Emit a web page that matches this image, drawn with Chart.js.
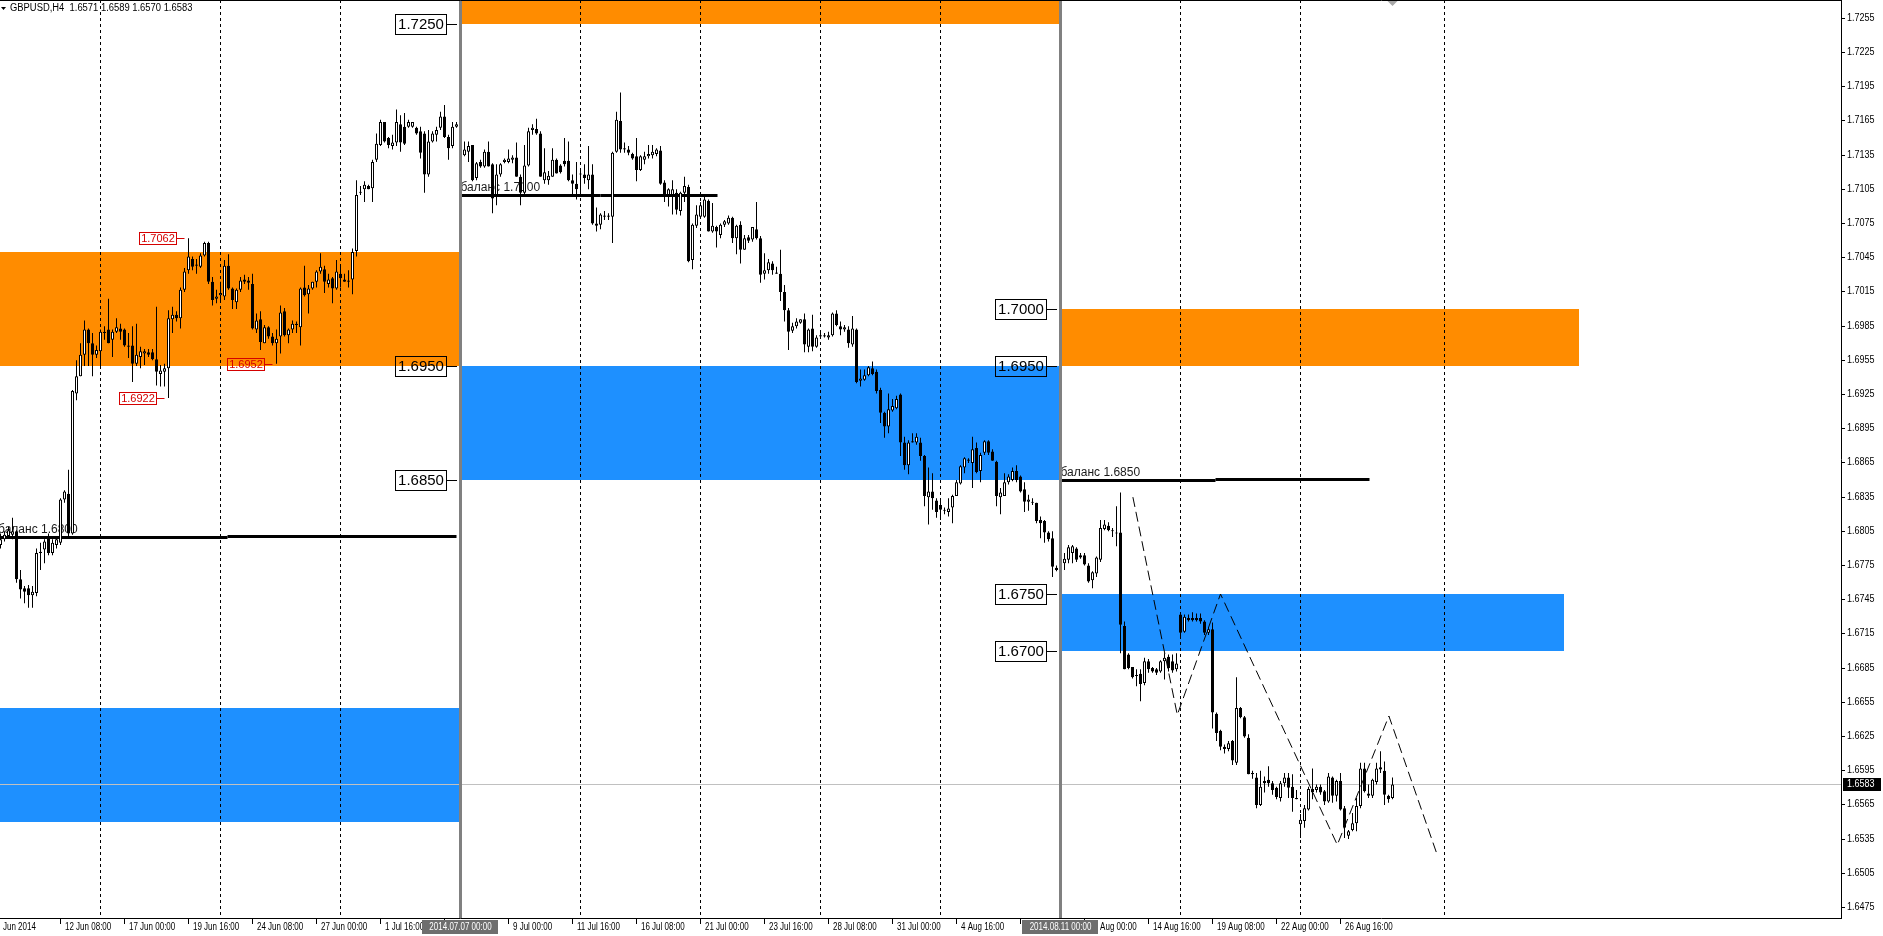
<!DOCTYPE html>
<html>
<head>
<meta charset="utf-8">
<title>GBPUSD,H4</title>
<script src="https://cdn.jsdelivr.net/npm/chart.js@4.4.1/dist/chart.umd.min.js"></script>
<style>
  html, body { margin: 0; padding: 0; background: #fff; overflow: hidden; }
  #wrap { width: 1883px; height: 936px; }
  #chart { display: block; }
</style>
</head>
<body>
<div id="wrap"><canvas id="chart" width="1883" height="936"></canvas></div>
<script>
// H4 bars, index 0 = 9 Jun 20:00 ... 348 = last (current) bar
var OPEN = [
  1.6793,1.6798,1.6801,1.6802,1.6805,1.6763,1.6755,1.6755,1.6749,1.6751,
  1.6786,1.6789,1.6801,1.6786,1.6793,1.6795,1.6833,1.6838,1.6803,1.6926,
  1.6941,1.6960,1.6982,1.6970,1.6960,1.6963,1.6979,1.6982,1.6973,1.6980,
  1.6983,1.6982,1.6968,1.6968,1.6952,1.6958,1.6961,1.6962,1.6962,1.6956,
  1.6943,1.6945,1.6948,1.6991,1.6995,1.6992,1.7017,1.7034,1.7044,1.7039,
  1.7037,1.7047,1.7058,1.7024,1.7009,1.7012,1.7011,1.7038,1.7018,1.7006,
  1.7017,1.7026,1.7025,1.7022,1.6982,1.6991,1.6970,1.6984,1.6976,1.6970,
  1.6976,1.6998,1.6977,1.6982,1.6986,1.6984,1.7019,1.7013,1.7018,1.7024,
  1.7033,1.7035,1.7022,1.7027,1.7018,1.7031,1.7026,1.7024,1.7026,1.7051,
  1.7102,1.7105,1.7108,1.7106,1.7131,1.7144,1.7164,1.7150,1.7143,1.7146,
  1.7162,1.7160,1.7160,1.7160,1.7159,1.7156,1.7154,1.7118,1.7147,1.7153,
  1.7159,1.7169,1.7151,1.7143,1.7160,1.7150,1.7135,1.7138,1.7144,1.7115,
  1.7129,1.7125,1.7138,1.7127,1.7100,1.7118,1.7129,1.7129,1.7131,1.7133,
  1.7116,1.7102,1.7126,1.7157,1.7158,1.7154,1.7113,1.7113,1.7116,1.7131,
  1.7126,1.7130,1.7130,1.7113,1.7110,1.7119,1.7118,1.7113,1.7118,1.7075,
  1.7074,1.7081,1.7081,1.7081,1.7138,1.7165,1.7141,1.7140,1.7136,1.7134,
  1.7122,1.7131,1.7134,1.7135,1.7136,1.7139,1.7111,1.7100,1.7100,1.7102,
  1.7086,1.7102,1.7107,1.7043,1.7073,1.7081,1.7081,1.7095,1.7068,1.7072,
  1.7065,1.7074,1.7075,1.7080,1.7062,1.7074,1.7052,1.7063,1.7061,1.7070,
  1.7062,1.7031,1.7034,1.7040,1.7032,1.7031,1.7015,1.6999,1.6981,1.6985,
  1.6988,1.6991,1.6967,1.6983,1.6967,1.6976,1.6977,1.6975,1.6977,1.6996,
  1.6985,1.6982,1.6982,1.6969,1.6982,1.6937,1.6938,1.6942,1.6948,1.6945,
  1.6929,1.6909,1.6897,1.6911,1.6913,1.6925,1.6883,1.6863,1.6883,1.6883,
  1.6883,1.6871,1.6835,1.6840,1.6832,1.6828,1.6823,1.6822,1.6826,1.6836,
  1.6847,1.6861,1.6867,1.6865,1.6878,1.6858,1.6874,1.6884,1.6875,1.6866,
  1.6835,1.6836,1.6848,1.6850,1.6858,1.6853,1.6842,1.6831,1.6830,1.6830,
  1.6815,1.6814,1.6804,1.6799,1.6773,1.6771,1.6777,1.6780,1.6786,1.6790,
  1.6784,1.6784,1.6775,1.6762,1.6768,1.6780,1.6807,1.6810,1.6806,1.6803,
  1.6804,1.6722,1.6697,1.6686,1.6679,1.6680,1.6672,1.6691,1.6685,1.6684,
  1.6682,1.6691,1.6695,1.6691,1.6684,1.6732,1.6717,1.6729,1.6729,1.6729,
  1.6729,1.6726,1.6716,1.6719,1.6645,1.6630,1.6616,1.6614,1.6621,1.6602,
  1.6650,1.6642,1.6624,1.6593,1.6589,1.6565,1.6586,1.6587,1.6584,1.6580,
  1.6571,1.6584,1.6589,1.6581,1.6571,1.6548,1.6551,1.6561,1.6579,1.6578,
  1.6581,1.6577,1.6568,1.6589,1.6573,1.6586,1.6562,1.6538,1.6543,1.6549,
  1.6564,1.6597,1.6575,1.6573,1.6585,1.6598,1.6595,1.6573,1.6571
];
var HIGH = [
  1.6803,1.6805,1.6809,1.6817,1.6806,1.6771,1.6757,1.6758,1.6757,1.6790,
  1.6795,1.6798,1.6803,1.6798,1.6801,1.6834,1.6841,1.6859,1.6929,1.6955,
  1.6970,1.6990,1.6983,1.6979,1.6968,1.6982,1.6985,1.7009,1.6982,1.6992,
  1.6987,1.6983,1.6979,1.6985,1.6987,1.6967,1.6965,1.6965,1.6965,1.7002,
  1.6951,1.6952,1.6999,1.7002,1.6998,1.7019,1.7036,1.7062,1.7046,1.7044,
  1.7049,1.7059,1.7059,1.7028,1.7017,1.7024,1.7043,1.7048,1.7019,1.7018,
  1.7028,1.7030,1.7028,1.7031,1.6996,1.6998,1.6986,1.6985,1.6979,1.6982,
  1.7003,1.7001,1.6983,1.6990,1.6989,1.7019,1.7038,1.7021,1.7024,1.7034,
  1.7049,1.7038,1.7031,1.7028,1.7043,1.7038,1.7031,1.7034,1.7053,1.7113,
  1.7108,1.7112,1.7109,1.7131,1.7154,1.7166,1.7164,1.7151,1.7153,1.7175,
  1.7170,1.7172,1.7166,1.7164,1.7160,1.7160,1.7156,1.7157,1.7156,1.7160,
  1.7173,1.7179,1.7153,1.7164,1.7164,1.7155,1.7147,1.7147,1.7144,1.7129,
  1.7131,1.7140,1.7147,1.7128,1.7127,1.7128,1.7132,1.7140,1.7135,1.7146,
  1.7118,1.7144,1.7159,1.7162,1.7167,1.7156,1.7141,1.7121,1.7141,1.7132,
  1.7127,1.7150,1.7147,1.7118,1.7129,1.7122,1.7127,1.7143,1.7127,1.7089,
  1.7084,1.7086,1.7084,1.7138,1.7173,1.7190,1.7146,1.7143,1.7137,1.7150,
  1.7135,1.7138,1.7144,1.7144,1.7141,1.7143,1.7113,1.7106,1.7113,1.7105,
  1.7103,1.7116,1.7109,1.7075,1.7091,1.7094,1.7099,1.7096,1.7093,1.7073,
  1.7075,1.7078,1.7082,1.7081,1.7074,1.7077,1.7065,1.7065,1.7072,1.7094,
  1.7064,1.7049,1.7044,1.7042,1.7037,1.7052,1.7021,1.7001,1.6988,1.6992,
  1.6991,1.6996,1.6983,1.6995,1.6977,1.6979,1.6979,1.6980,1.6997,1.6999,
  1.6989,1.6986,1.6985,1.6994,1.6983,1.6947,1.6947,1.6950,1.6954,1.6947,
  1.6931,1.6910,1.6926,1.6921,1.6924,1.6926,1.6888,1.6885,1.6891,1.6891,
  1.6887,1.6872,1.6861,1.6856,1.6834,1.6834,1.6826,1.6834,1.6837,1.6850,
  1.6863,1.6870,1.6869,1.6888,1.6883,1.6874,1.6885,1.6885,1.6877,1.6867,
  1.6843,1.6856,1.6855,1.6861,1.6863,1.6854,1.6848,1.6837,1.6834,1.6830,
  1.6818,1.6815,1.6805,1.6805,1.6775,1.6780,1.6786,1.6793,1.6793,1.6791,
  1.6786,1.6786,1.6777,1.6770,1.6783,1.6815,1.6815,1.6813,1.6808,1.6827,
  1.6839,1.6726,1.6698,1.6686,1.6684,1.6684,1.6694,1.6693,1.6686,1.6685,
  1.6692,1.6698,1.6697,1.6697,1.6698,1.6733,1.6732,1.6732,1.6734,1.6733,
  1.6733,1.6727,1.6721,1.6725,1.6646,1.6631,1.6618,1.6621,1.6622,1.6677,
  1.6651,1.6643,1.6627,1.6595,1.6593,1.6595,1.6590,1.6599,1.6586,1.6581,
  1.6586,1.6593,1.6593,1.6592,1.6578,1.6557,1.6565,1.6581,1.6597,1.6583,
  1.6583,1.6578,1.6593,1.6590,1.6587,1.6593,1.6564,1.6543,1.6558,1.6571,
  1.6602,1.6602,1.6583,1.6588,1.6602,1.6612,1.6603,1.6574,1.6589
];
var LOW = [
  1.6790,1.6796,1.6799,1.6798,1.6760,1.6746,1.6742,1.6738,1.6738,1.6748,
  1.6771,1.6777,1.6784,1.6784,1.6790,1.6793,1.6830,1.6801,1.6802,1.6920,
  1.6941,1.6950,1.6950,1.6941,1.6957,1.6950,1.6973,1.6970,1.6958,1.6979,
  1.6973,1.6967,1.6957,1.6936,1.6950,1.6948,1.6951,1.6958,1.6955,1.6933,
  1.6932,1.6932,1.6922,1.6979,1.6989,1.6983,1.7015,1.7031,1.7034,1.7031,
  1.7036,1.7046,1.7022,1.7003,1.7005,1.7008,1.7008,1.7017,1.7000,1.7000,
  1.7015,1.7022,1.7017,1.6982,1.6979,1.6964,1.6970,1.6974,1.6968,1.6952,
  1.6961,1.6976,1.6970,1.6979,1.6979,1.6968,1.7011,1.6996,1.7017,1.7019,
  1.7031,1.7014,1.7019,1.7005,1.7017,1.7019,1.7024,1.7019,1.7013,1.7046,
  1.7100,1.7094,1.7105,1.7094,1.7129,1.7143,1.7146,1.7141,1.7140,1.7143,
  1.7138,1.7144,1.7159,1.7159,1.7153,1.7132,1.7102,1.7116,1.7146,1.7147,
  1.7157,1.7150,1.7131,1.7141,1.7159,1.7132,1.7134,1.7129,1.7112,1.7113,
  1.7124,1.7124,1.7125,1.7084,1.7091,1.7116,1.7128,1.7128,1.7128,1.7116,
  1.7091,1.7100,1.7125,1.7153,1.7153,1.7116,1.7110,1.7109,1.7116,1.7119,
  1.7119,1.7125,1.7112,1.7099,1.7096,1.7100,1.7110,1.7105,1.7074,1.7068,
  1.7070,1.7078,1.7078,1.7058,1.7137,1.7137,1.7137,1.7135,1.7131,1.7112,
  1.7121,1.7127,1.7132,1.7132,1.7134,1.7109,1.7094,1.7090,1.7083,1.7083,
  1.7082,1.7094,1.7041,1.7035,1.7071,1.7080,1.7080,1.7068,1.7067,1.7054,
  1.7062,1.7072,1.7074,1.7058,1.7048,1.7040,1.7052,1.7058,1.7059,1.7061,
  1.7023,1.7026,1.7031,1.7030,1.7031,1.7007,1.6989,1.6964,1.6979,1.6983,
  1.6987,1.6962,1.6962,1.6963,1.6966,1.6975,1.6975,1.6973,1.6976,1.6985,
  1.6977,1.6980,1.6966,1.6967,1.6935,1.6932,1.6937,1.6941,1.6942,1.6926,
  1.6900,1.6887,1.6891,1.6910,1.6912,1.6871,1.6859,1.6855,1.6883,1.6881,
  1.6867,1.6827,1.6811,1.6824,1.6817,1.6815,1.6820,1.6818,1.6812,1.6836,
  1.6846,1.6856,1.6865,1.6843,1.6856,1.6848,1.6872,1.6872,1.6867,1.6827,
  1.6820,1.6836,1.6846,1.6849,1.6848,1.6839,1.6822,1.6823,1.6828,1.6812,
  1.6799,1.6795,1.6796,1.6765,1.6770,1.6768,1.6771,1.6777,1.6777,1.6778,
  1.6781,1.6775,1.6760,1.6755,1.6765,1.6778,1.6806,1.6805,1.6800,1.6792,
  1.6698,1.6684,1.6684,1.6676,1.6669,1.6656,1.6670,1.6681,1.6681,1.6679,
  1.6681,1.6675,1.6682,1.6681,1.6682,1.6711,1.6716,1.6726,1.6726,1.6726,
  1.6724,1.6714,1.6714,1.6632,1.6621,1.6613,1.6610,1.6612,1.6600,1.6600,
  1.6641,1.6624,1.6592,1.6588,1.6562,1.6564,1.6576,1.6581,1.6574,1.6570,
  1.6568,1.6581,1.6571,1.6559,1.6570,1.6536,1.6545,1.6560,1.6570,1.6576,
  1.6574,1.6565,1.6567,1.6567,1.6568,1.6560,1.6536,1.6535,1.6542,1.6542,
  1.6562,1.6576,1.6571,1.6571,1.6583,1.6593,1.6565,1.6567,1.6570
];
var CLOSE = [
  1.6798,1.6802,1.6806,1.6805,1.6763,1.6754,1.6752,1.6749,1.6752,1.6786,
  1.6787,1.6796,1.6786,1.6795,1.6798,1.6833,1.6840,1.6803,1.6928,1.6941,
  1.6960,1.6982,1.6970,1.6960,1.6964,1.6980,1.6980,1.6970,1.6980,1.6984,
  1.6980,1.6968,1.6967,1.6952,1.6960,1.6963,1.6963,1.6960,1.6956,1.6945,
  1.6946,1.6948,1.6992,1.6995,1.6992,1.7017,1.7033,1.7046,1.7037,1.7038,
  1.7047,1.7058,1.7024,1.7008,1.7011,1.7014,1.7038,1.7018,1.7008,1.7017,
  1.7025,1.7024,1.7023,1.6983,1.6990,1.6971,1.6984,1.6976,1.6970,1.6974,
  1.6997,1.6977,1.6982,1.6987,1.6987,1.7018,1.7012,1.7018,1.7024,1.7033,
  1.7037,1.7024,1.7026,1.7018,1.7033,1.7027,1.7024,1.7025,1.7050,1.7100,
  1.7103,1.7109,1.7105,1.7129,1.7145,1.7164,1.7147,1.7144,1.7146,1.7164,
  1.7146,1.7145,1.7164,1.7164,1.7154,1.7137,1.7118,1.7147,1.7154,1.7157,
  1.7169,1.7151,1.7141,1.7160,1.7162,1.7136,1.7140,1.7143,1.7113,1.7128,
  1.7125,1.7138,1.7125,1.7097,1.7118,1.7127,1.7131,1.7132,1.7133,1.7116,
  1.7102,1.7126,1.7156,1.7159,1.7154,1.7116,1.7120,1.7117,1.7131,1.7119,
  1.7120,1.7127,1.7113,1.7110,1.7105,1.7118,1.7115,1.7118,1.7075,1.7073,
  1.7083,1.7082,1.7082,1.7137,1.7166,1.7140,1.7140,1.7137,1.7132,1.7122,
  1.7134,1.7134,1.7136,1.7138,1.7140,1.7110,1.7099,1.7105,1.7105,1.7087,
  1.7102,1.7108,1.7042,1.7074,1.7083,1.7091,1.7096,1.7068,1.7073,1.7068,
  1.7074,1.7077,1.7080,1.7062,1.7073,1.7052,1.7062,1.7060,1.7072,1.7062,
  1.7030,1.7034,1.7041,1.7034,1.7031,1.7015,1.6999,1.6980,1.6985,1.6989,
  1.6991,1.6969,1.6982,1.6967,1.6975,1.6977,1.6976,1.6977,1.6996,1.6986,
  1.6982,1.6984,1.6970,1.6983,1.6936,1.6939,1.6942,1.6949,1.6943,1.6928,
  1.6909,1.6897,1.6912,1.6915,1.6921,1.6883,1.6863,1.6883,1.6884,1.6888,
  1.6871,1.6836,1.6840,1.6834,1.6822,1.6824,1.6824,1.6825,1.6836,1.6848,
  1.6862,1.6869,1.6868,1.6877,1.6857,1.6872,1.6884,1.6874,1.6867,1.6836,
  1.6839,1.6848,1.6853,1.6858,1.6850,1.6840,1.6831,1.6833,1.6831,1.6814,
  1.6812,1.6804,1.6798,1.6774,1.6771,1.6778,1.6781,1.6791,1.6792,1.6780,
  1.6782,1.6776,1.6761,1.6769,1.6782,1.6808,1.6811,1.6806,1.6805,1.6804,
  1.6723,1.6684,1.6685,1.6677,1.6678,1.6671,1.6691,1.6684,1.6682,1.6681,
  1.6691,1.6694,1.6685,1.6683,1.6689,1.6716,1.6730,1.6727,1.6727,1.6727,
  1.6726,1.6716,1.6719,1.6646,1.6628,1.6616,1.6614,1.6619,1.6604,1.6650,
  1.6642,1.6625,1.6592,1.6592,1.6565,1.6581,1.6584,1.6584,1.6578,1.6572,
  1.6584,1.6589,1.6580,1.6571,1.6570,1.6552,1.6562,1.6579,1.6576,1.6581,
  1.6576,1.6568,1.6590,1.6573,1.6586,1.6561,1.6545,1.6542,1.6549,1.6564,
  1.6597,1.6577,1.6573,1.6587,1.6597,1.6596,1.6574,1.6570,1.6583
];

var SYMBOL = "GBPUSD,H4";
var BID = 1.6583;

// right price scale
var PRICE_TICKS = [1.7255, 1.7225, 1.7195, 1.7165, 1.7135, 1.7105, 1.7075, 1.7045, 1.7015,
  1.6985, 1.6955, 1.6925, 1.6895, 1.6865, 1.6835, 1.6805, 1.6775, 1.6745, 1.6715,
  1.6685, 1.6655, 1.6625, 1.6595, 1.6565, 1.6535, 1.6505, 1.6475];

// time scale
var TIME_BARS = [-0.5, 15, 31, 47, 63, 79, 95, 111, 127, 143, 159, 175, 191, 207, 223, 239, 255, 271, 287, 303, 319, 335];
var TIME_LABELS = ["Jun 2014", "12 Jun 08:00", "17 Jun 00:00", "19 Jun 16:00", "24 Jun 08:00", "27 Jun 00:00",
  "1 Jul 16:00", "4 Jul 08:00", "9 Jul 00:00", "11 Jul 16:00", "16 Jul 08:00", "21 Jul 00:00", "23 Jul 16:00",
  "28 Jul 08:00", "31 Jul 00:00", "4 Aug 16:00", "7 Aug 08:00", "12 Aug 00:00", "14 Aug 16:00",
  "19 Aug 08:00", "22 Aug 00:00", "26 Aug 16:00"];
var GRID_BARS = [25, 55, 85, 115, 145, 175, 205, 235, 265, 295, 325, 361];

// period separators (vertical lines)
var SEP_BARS = [115, 265];
var SEP_LABELS = ["2014.07.07 00:00", "2014.08.11 00:00"];

// supply / demand zones
var ZONE_FROM = [-2, -2, 115, 115, 265, 265];
var ZONE_TO = [115, 115, 265, 265, 394.75, 391];
var ZONE_LOW = [1.6950, 1.6550, 1.7250, 1.6850, 1.6950, 1.6700];
var ZONE_HIGH = [1.7050, 1.6650, 1.7300, 1.6950, 1.7000, 1.6750];
var ZONE_KIND = ["sell", "buy", "sell", "buy", "sell", "buy"];

// zone price tags
var LEVEL_PRICES = [1.7250, 1.6950, 1.6850, 1.7000, 1.6950, 1.6750, 1.6700];
var LEVEL_BARS = [115, 115, 115, 265, 265, 265, 265];

// balance lines
var BAL_TEXT = ["баланс 1.6800", "баланс 1.7100", "баланс 1.6850"];
var BAL_PRICE = [1.6800, 1.7100, 1.6850];
var BAL_FROM = [-0.6, 115, 265];
var BAL_STEP = [56.75, 150, 303.75];
var BAL_STEP_PRICE = [1.68011, 1.7100, 1.68507];
var BAL_TO = [114, 179.25, 342.25];

// zigzag projection
var ZIG_BARS = [283.1, 294.2, 305, 334.2, 347.1, 359.2];
var ZIG_PRICES = [1.6835, 1.6644, 1.6750, 1.6530, 1.6643, 1.6521];

// high / low price marks
var MARK_BARS = [47, 42, 69];
var MARK_PRICES = [1.7062, 1.6922, 1.6952];

(function () {
  var canvas = document.getElementById("chart");
  var ORANGE = "#ff8c00";
  var BLUE = "#1e90ff";
  var AXIS_FONT = '10px "Liberation Sans", Arial, sans-serif';

  function crisp(v) { return Math.round(v - 0.5) + 0.5; }

  function drawText(ctx, s, x, y, font, squeeze, align, color, baseline) {
    ctx.save();
    ctx.font = font;
    ctx.fillStyle = color || "#000";
    ctx.textAlign = align || "left";
    ctx.textBaseline = baseline || "middle";
    ctx.translate(x, y);
    ctx.scale(squeeze, 1);
    ctx.fillText(s, 0, 0);
    ctx.restore();
  }

  function fmt(p) { return p.toFixed(4); }

  var n = Math.min(OPEN.length, HIGH.length, LOW.length, CLOSE.length);
  var wickData = [], bodyData = [], bodyFill = [];
  for (var i = 0; i < n; i++) {
    wickData.push({ x: i, y: [LOW[i], HIGH[i]] });
    bodyData.push({ x: i, y: [OPEN[i], CLOSE[i]] });
    bodyFill.push(CLOSE[i] > OPEN[i] ? "#ffffff" : "#000000");
  }

  var overlay = {
    id: "mt4Overlay",
    beforeDraw: function (chart) {
      var ctx = chart.ctx, a = chart.chartArea;
      var xs = chart.scales.x, ys = chart.scales.y;
      ctx.save();
      ctx.fillStyle = "#ffffff";
      ctx.fillRect(0, 0, chart.width, chart.height);
      ctx.beginPath();
      ctx.rect(a.left, a.top, a.right - a.left, a.bottom - a.top);
      ctx.clip();
      for (var i = 0; i < ZONE_FROM.length; i++) {
        var x0 = xs.getPixelForValue(ZONE_FROM[i]) - 0.5;
        var x1 = xs.getPixelForValue(ZONE_TO[i]) - 0.5;
        var y0 = Math.round(ys.getPixelForValue(ZONE_HIGH[i]));
        var y1 = Math.round(ys.getPixelForValue(ZONE_LOW[i]));
        ctx.fillStyle = ZONE_KIND[i] === "sell" ? ORANGE : BLUE;
        ctx.fillRect(x0, y0, x1 - x0, y1 - y0);
      }
      ctx.strokeStyle = "#000";
      ctx.lineWidth = 1;
      ctx.setLineDash([3, 3]);
      GRID_BARS.forEach(function (b) {
        var x = xs.getPixelForValue(b);
        ctx.beginPath();
        ctx.moveTo(x, a.top);
        ctx.lineTo(x, a.bottom);
        ctx.stroke();
      });
      ctx.setLineDash([]);
      ctx.strokeStyle = "#c0c0c0";
      var yb = crisp(ys.getPixelForValue(BID));
      ctx.beginPath();
      ctx.moveTo(a.left, yb);
      ctx.lineTo(a.right, yb);
      ctx.stroke();
      ctx.restore();
    },
    beforeDatasetsDraw: function (chart) {
      var ctx = chart.ctx, a = chart.chartArea;
      var xs = chart.scales.x, ys = chart.scales.y;
      ctx.save();
      ctx.beginPath();
      ctx.rect(a.left, a.top, a.right - a.left, a.bottom - a.top);
      ctx.clip();
      for (var i = 0; i < BAL_PRICE.length; i++) {
        var xa = xs.getPixelForValue(BAL_FROM[i]);
        var xm = xs.getPixelForValue(BAL_STEP[i]);
        var xb = xs.getPixelForValue(BAL_TO[i]);
        var ya = Math.round(ys.getPixelForValue(BAL_PRICE[i])) + 0.5;
        var ym = Math.round(ys.getPixelForValue(BAL_STEP_PRICE[i])) + 0.5;
        ctx.strokeStyle = "#000";
        ctx.lineWidth = 3;
        ctx.beginPath();
        ctx.moveTo(xa, ya);
        ctx.lineTo(xm, ya);
        ctx.stroke();
        ctx.beginPath();
        ctx.moveTo(xm, ym);
        ctx.lineTo(xb, ym);
        ctx.stroke();
        drawText(ctx, BAL_TEXT[i], xa, ya - 5, '12px "Liberation Sans", Arial, sans-serif', 1, "left", "#1a1a1a", "alphabetic");
      }
      ctx.restore();
    },
    afterDatasetsDraw: function (chart) {
      var ctx = chart.ctx, a = chart.chartArea;
      var xs = chart.scales.x, ys = chart.scales.y;
      ctx.save();
      ctx.beginPath();
      ctx.rect(a.left, a.top, a.right - a.left, a.bottom - a.top);
      ctx.clip();

      // separators
      ctx.fillStyle = "#808080";
      SEP_BARS.forEach(function (b) {
        ctx.fillRect(xs.getPixelForValue(b) - 1.5, a.top, 3, a.bottom - a.top);
      });

      // zigzag
      ctx.strokeStyle = "#000";
      ctx.lineWidth = 1;
      ctx.setLineDash([10, 5]);
      ctx.beginPath();
      for (var i = 0; i < ZIG_BARS.length; i++) {
        var zx = xs.getPixelForValue(ZIG_BARS[i]), zy = ys.getPixelForValue(ZIG_PRICES[i]);
        if (i === 0) ctx.moveTo(zx, zy); else ctx.lineTo(zx, zy);
      }
      ctx.stroke();
      ctx.setLineDash([]);

      // zone price tags
      for (var j = 0; j < LEVEL_PRICES.length; j++) {
        var ax = xs.getPixelForValue(LEVEL_BARS[j]) - 0.5;
        var ly = Math.round(ys.getPixelForValue(LEVEL_PRICES[j])) + 0.5;
        var right = ax - 13.5, left = right - 51;
        ctx.strokeStyle = "#000";
        ctx.lineWidth = 1;
        ctx.strokeRect(left, ly - 10, right - left, 20);
        ctx.beginPath();
        ctx.moveTo(right, ly);
        ctx.lineTo(ax - 3, ly);
        ctx.stroke();
        drawText(ctx, fmt(LEVEL_PRICES[j]), (left + right) / 2, ly + 0.5, '15px "Liberation Sans", Arial, sans-serif', 1, "center", "#000");
      }

      // high / low marks
      for (var k = 0; k < MARK_BARS.length; k++) {
        var cx = xs.getPixelForValue(MARK_BARS[k]);
        var my = Math.round(ys.getPixelForValue(MARK_PRICES[k])) + 0.5;
        var r = Math.round(cx - 13) + 0.5;
        ctx.strokeStyle = "#d40000";
        ctx.strokeRect(r - 37, my - 6, 37, 12);
        ctx.beginPath();
        ctx.moveTo(r, my);
        ctx.lineTo(cx - 4, my);
        ctx.stroke();
        drawText(ctx, fmt(MARK_PRICES[k]), r - 18.5, my + 0.5, '11px "Liberation Sans", Arial, sans-serif', 1, "center", "#d40000");
      }
      ctx.restore();
    },
    afterDraw: function (chart) {
      var ctx = chart.ctx, a = chart.chartArea;
      var xs = chart.scales.x, ys = chart.scales.y;
      ctx.save();

      // frame
      ctx.strokeStyle = "#000";
      ctx.lineWidth = 1;
      ctx.beginPath();
      ctx.moveTo(a.left, 0.5);
      ctx.lineTo(a.right, 0.5);
      ctx.moveTo(a.right - 0.5, 0);
      ctx.lineTo(a.right - 0.5, a.bottom + 1);
      ctx.moveTo(a.left, a.bottom + 0.5);
      ctx.lineTo(a.right, a.bottom + 0.5);
      ctx.stroke();

      // price labels
      PRICE_TICKS.forEach(function (p) {
        var y = crisp(ys.getPixelForValue(p));
        ctx.beginPath();
        ctx.moveTo(a.right, y);
        ctx.lineTo(a.right + 3, y);
        ctx.stroke();
        drawText(ctx, fmt(p), a.right + 5, y, AXIS_FONT, 0.9, "left", "#000");
      });

      // bid tag
      var yb = crisp(ys.getPixelForValue(BID));
      ctx.fillStyle = "#000";
      ctx.fillRect(a.right + 1, yb - 6.5, 38, 13);
      drawText(ctx, fmt(BID), a.right + 5, yb, AXIS_FONT, 0.9, "left", "#fff");

      // time labels
      for (var i = 0; i < TIME_BARS.length; i++) {
        var tx = xs.getPixelForValue(TIME_BARS[i]);
        ctx.beginPath();
        ctx.moveTo(tx, a.bottom);
        ctx.lineTo(tx, a.bottom + 6);
        ctx.stroke();
        drawText(ctx, TIME_LABELS[i], tx + 4.5, a.bottom + 9, AXIS_FONT, 0.8, "left", "#000");
      }

      // separator time boxes
      for (var s = 0; s < SEP_BARS.length; s++) {
        var sx = xs.getPixelForValue(SEP_BARS[s]);
        ctx.fillStyle = "#6e6e6e";
        ctx.fillRect(Math.round(sx - 38.5), a.bottom + 2, 76, 14);
        drawText(ctx, SEP_LABELS[s], sx, a.bottom + 9, AXIS_FONT, 0.8, "center", "#fff");
      }

      // header
      ctx.fillStyle = "#000";
      ctx.beginPath();
      ctx.moveTo(1, 7);
      ctx.lineTo(6, 7);
      ctx.lineTo(3.5, 10);
      ctx.closePath();
      ctx.fill();
      var last = n - 1;
      var head = SYMBOL + "  " + fmt(OPEN[last]) + " " + fmt(HIGH[last]) + " " + fmt(LOW[last]) + " " + fmt(CLOSE[last]);
      drawText(ctx, head, 10, 8.5, AXIS_FONT, 0.94, "left", "#000");

      // chart shift marker
      var mx = xs.getPixelForValue(348);
      ctx.fillStyle = "#a8a8a8";
      ctx.beginPath();
      ctx.moveTo(mx - 5, 1);
      ctx.lineTo(mx + 5, 1);
      ctx.lineTo(mx, 6);
      ctx.closePath();
      ctx.fill();

      if (OPEN.length !== HIGH.length || OPEN.length !== LOW.length || OPEN.length !== CLOSE.length) {
        drawText(ctx, "len " + OPEN.length + " " + HIGH.length + " " + LOW.length + " " + CLOSE.length, 600, 60, AXIS_FONT, 1, "left", "#f00");
      }
      ctx.restore();
    }
  };

  new Chart(canvas, {
    type: "bar",
    data: {
      datasets: [
        {
          label: "wick",
          data: wickData,
          backgroundColor: "#000000",
          borderWidth: 0,
          barThickness: 1,
          grouped: false,
          inflateAmount: 0,
          minBarLength: 1,
          order: 2
        },
        {
          label: "body",
          data: bodyData,
          backgroundColor: bodyFill,
          borderColor: "#000000",
          borderWidth: 1,
          borderSkipped: false,
          barThickness: 3,
          grouped: false,
          inflateAmount: 0,
          minBarLength: 1,
          order: 1
        }
      ]
    },
    options: {
      responsive: false,
      animation: false,
      devicePixelRatio: 1,
      events: [],
      layout: { padding: 0 },
      plugins: { legend: { display: false }, tooltip: { enabled: false } },
      scales: {
        x: {
          type: "linear",
          min: -0.125,
          max: 460.375,
          offset: false,
          ticks: { display: false },
          grid: { display: false },
          border: { display: false },
          afterFit: function (scale) { scale.height = 18; }
        },
        y: {
          type: "linear",
          position: "right",
          min: 1.64658,
          max: 1.72711,
          beginAtZero: false,
          ticks: { display: false },
          grid: { display: false },
          border: { display: false },
          afterFit: function (scale) { scale.width = 41; }
        }
      }
    },
    plugins: [overlay]
  });
})();
</script>
</body>
</html>
